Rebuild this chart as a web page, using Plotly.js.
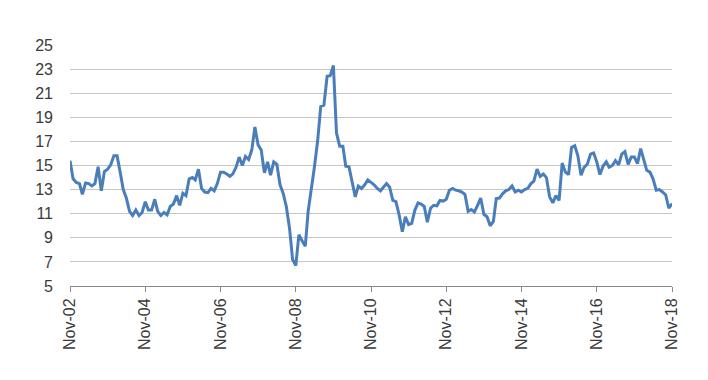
<!DOCTYPE html>
<html>
<head>
<meta charset="utf-8">
<script src="https://cdn.plot.ly/plotly-3.0.1.min.js"></script>
<style>html,body{margin:0;padding:0;background:#fff;}#chart{width:708px;height:380px;}</style>
</head>
<body>
<div id="chart"></div>
<script>
// Monthly series, Nov-2002 .. Nov-2018
var startYear = 2002, startMonth = 11;
var values = [
15.4,13.9,13.6,13.5,12.6,13.55,13.5,13.3,13.5,14.9,12.9,14.5,
14.7,15.05,15.8,15.8,14.5,13.0,12.3,11.2,10.85,11.3,10.85,11.1,
12.0,11.3,11.3,12.2,11.2,10.85,11.1,10.9,11.6,11.8,12.5,11.7,
12.7,12.5,13.9,14.0,13.8,14.7,13.1,12.8,12.75,13.1,12.9,13.5,
14.45,14.45,14.3,14.1,14.3,14.85,15.7,15.0,15.75,15.5,16.3,18.2,
16.7,16.3,14.4,15.3,14.2,15.3,15.1,13.4,12.7,11.6,9.8,7.2,
6.7,9.25,8.75,8.3,11.2,12.95,14.9,17.05,19.9,20.0,22.4,22.45,
23.3,17.7,16.6,16.6,14.95,14.9,13.6,12.4,13.3,13.1,13.4,13.8,
13.6,13.4,13.1,12.9,13.2,13.5,13.2,12.1,12.0,10.9,9.5,10.75,
10.1,10.2,11.3,11.9,11.8,11.6,10.3,11.45,11.7,11.65,12.1,12.05,
12.2,12.95,13.1,12.95,12.9,12.8,12.6,11.2,11.35,11.15,11.7,12.3,
10.95,10.75,10.0,10.35,12.25,12.3,12.65,12.9,13.0,13.3,12.8,12.95,
12.8,13.0,13.1,13.5,13.7,14.7,14.1,14.3,14.0,12.4,11.9,12.5,
12.1,15.2,14.45,14.25,16.5,16.65,15.8,14.2,14.85,15.1,15.95,16.05,
15.3,14.25,14.95,15.3,14.85,15.0,15.4,15.05,15.95,16.15,15.1,15.7,
15.7,15.15,16.4,15.55,14.6,14.45,13.9,12.95,13.0,12.8,12.55,11.45,
11.85
];
var tickDates = ['2002-11-01','2004-11-01','2006-11-01','2008-11-01','2010-11-01','2012-11-01','2014-11-01','2016-11-01','2018-11-01'];
var tickLabels = ['Nov-02','Nov-04','Nov-06','Nov-08','Nov-10','Nov-12','Nov-14','Nov-16','Nov-18'];
var yTicks = [5,7,9,11,13,15,17,19,21,23,25];

var dates = [];
for (var i = 0; i < values.length; i++) {
  var mIdx = startMonth - 1 + i;
  var y = startYear + Math.floor(mIdx / 12);
  var m = (mIdx % 12) + 1;
  dates.push(y + '-' + (m < 10 ? '0' + m : m) + '-01');
}

var trace = {
  x: dates, y: values, type: 'scatter', mode: 'lines',
  line: {color: '#4a7ebb', width: 3},
  hoverinfo: 'skip'
};

var layout = {
  width: 708, height: 380,
  margin: {l: 70, r: 36, t: 45, b: 94},
  paper_bgcolor: '#fff', plot_bgcolor: '#fff',
  showlegend: false,
  font: {family: '"Liberation Sans", Arial, sans-serif', size: 16, color: '#3a3a3a'},
  xaxis: {
    type: 'date',
    range: [tickDates[0], tickDates[tickDates.length - 1]],
    tickmode: 'array', tickvals: tickDates, ticktext: tickLabels,
    tickangle: -90,
    showgrid: false, zeroline: false,
    showline: true, linecolor: '#898989', linewidth: 1,
    ticks: 'outside', ticklen: 5, tickcolor: '#898989', tickwidth: 1,
    tickfont: {size: 16, color: '#3a3a3a'}
  },
  yaxis: {
    range: [5, 25],
    tickmode: 'array', tickvals: yTicks,
    showgrid: true, gridcolor: '#c6c6c6', gridwidth: 1,
    zeroline: false, showline: false, ticks: '',
    ticklabelstandoff: 16,
    tickfont: {size: 16, color: '#3a3a3a'}
  }
};

Plotly.newPlot('chart', [trace], layout, {staticPlot: true, displayModeBar: false});
</script>
</body>
</html>
